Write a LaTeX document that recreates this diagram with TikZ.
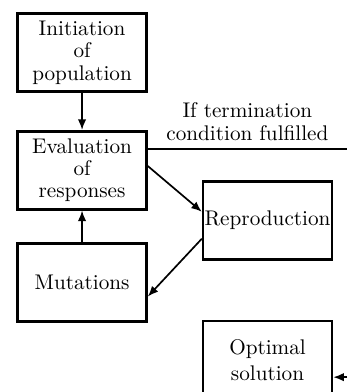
\documentclass[tikz,border=0pt]{standalone}
\usepackage{tikz}
\usetikzlibrary{arrows.meta, positioning, calc}

\begin{document}
\begin{tikzpicture}[
  node distance=17.5pt and 25.5pt,
  box/.style={rectangle, draw, line width=1.2pt, align=center,
              font=\fontsize{10}{10.5}\selectfont,
              minimum width=60.8pt, minimum height=36.8pt, inner xsep=0.5pt},
  arr/.style={-{Latex[length=5pt, width=4pt]}, line width=0.8pt}
]
\useasboundingbox (0,0) rectangle (163.7pt,-184.9pt);
\coordinate (edge) at (163.7pt,0);
\node[box] (init) at (38.7pt,-24.8pt) {Initiation\\of\\population};
\node[box, below=17.5pt of init] (eval) {Evaluation\\of\\responses};
\node[box, below=15pt of eval] (mut) {Mutations};
\node[box, right=25.5pt of eval, yshift=-23.6pt] (repr) {Reproduction};
\node[box, below=28pt of repr, font=\fontsize{10}{12}\selectfont] (opt) {Optimal\\solution};
\coordinate (termend) at ([yshift=10pt]eval.east -| edge);
\coordinate (optin) at ([yshift=-8pt]opt.east -| edge);
\draw[arr] (init) -- (eval);
\draw[arr] (mut) -- (eval);
\draw[arr] ([yshift=2pt]eval.east) -- ([yshift=4pt]repr.west);
\draw[arr] ([yshift=-8.7pt]repr.west) -- ([yshift=-6.6pt]mut.east);
\draw[line width=0.8pt] ([yshift=10pt]eval.east) -- (termend)
  node[midway, above, align=center, font=\fontsize{10}{11}\selectfont]
  {If termination\\condition fulfilled};
\draw[arr] (optin) -- ([yshift=-8pt]opt.east);
\end{tikzpicture}
\end{document}
